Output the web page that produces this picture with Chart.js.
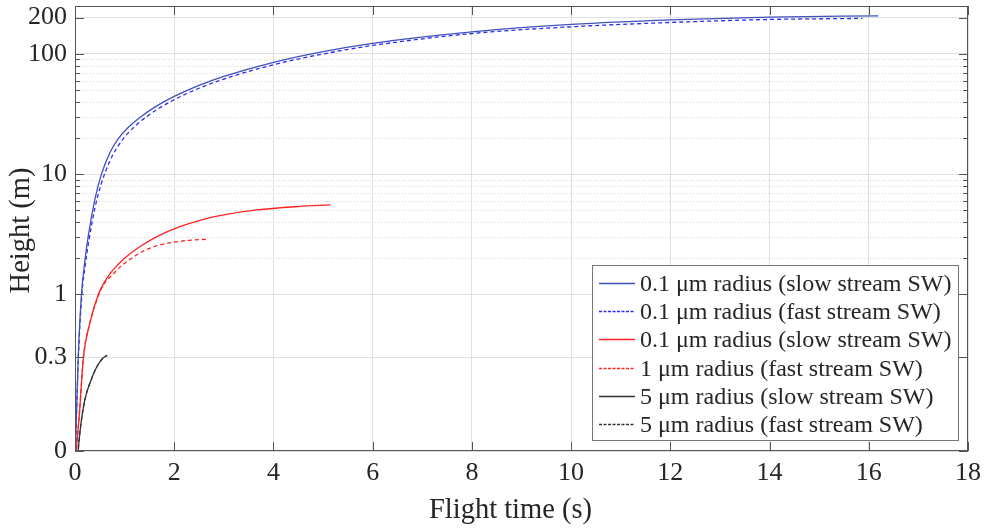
<!DOCTYPE html>
<html>
<head>
<meta charset="utf-8">
<script src="https://cdn.jsdelivr.net/npm/chart.js@4.4.1/dist/chart.umd.min.js"></script>
<style>
  html, body { margin: 0; padding: 0; background: #fff; }
  #wrap { width: 987px; height: 529px; }
</style>
</head>
<body>
<div id="wrap"><canvas id="heightChart"></canvas></div>
<script>
// flight time (s) and height (m) for each grain size / solar wind case
const blueSlowT = [0, 0.03, 0.065, 0.13, 0.2, 0.27, 0.4, 0.524, 0.7, 0.87, 1.05, 1.3, 1.65, 2, 2.5, 3, 4, 5, 6, 8, 10, 12, 14, 16.19];
const blueSlowH = [0.04, 0.1, 0.3, 1.0, 1.91, 3.11, 6.14, 9.72, 15.0, 19.7, 24.0, 29.5, 37.0, 44.3, 54.7, 64.9, 85.1, 104.5, 122.5, 152.4, 175.8, 191.9, 202.3, 207];
const blueFastT = [0, 0.03, 0.065, 0.14, 0.2, 0.27, 0.4, 0.524, 0.7, 0.87, 1.05, 1.3, 1.65, 2, 2.5, 3, 4, 5, 6, 8, 10, 12, 14, 15.87];
const blueFastH = [0.04, 0.1, 0.28, 1.02, 1.68, 2.66, 5.2, 8.18, 12.8, 17.2, 21.5, 27.0, 34.4, 41.6, 51.8, 61.8, 81.3, 99.8, 117.5, 147.6, 167.9, 182.4, 193.2, 197.2];
const redSlowT = [0, 0.04, 0.087, 0.17, 0.3, 0.47, 0.6, 0.75, 1.0, 1.3, 1.68, 2.1, 2.52, 3.0, 3.66, 4.5, 5.15];
const redSlowH = [0.04, 0.06, 0.1, 0.3, 0.58, 1, 1.28, 1.57, 2, 2.48, 3.07, 3.65, 4.14, 4.58, 5.04, 5.38, 5.55];
const redFastT = [0, 0.04, 0.087, 0.17, 0.3, 0.48, 0.6, 0.75, 0.95, 1.14, 1.4, 1.71, 2.0, 2.3, 2.67];
const redFastH = [0.04, 0.06, 0.1, 0.3, 0.58, 1, 1.25, 1.45, 1.75, 2, 2.32, 2.58, 2.72, 2.82, 2.88];
const blackSlowT = [0.05, 0.067, 0.1, 0.147, 0.19, 0.24, 0.336, 0.4, 0.47, 0.56, 0.651];
const blackSlowH = [0.04, 0.052, 0.072, 0.101, 0.128, 0.155, 0.2, 0.232, 0.263, 0.295, 0.313];
const blackFastT = [0.05, 0.067, 0.1, 0.147, 0.19, 0.24, 0.336, 0.4, 0.47, 0.56, 0.64];
const blackFastH = [0.04, 0.052, 0.072, 0.101, 0.128, 0.155, 0.2, 0.232, 0.263, 0.295, 0.31];

const seriesLabels = [
  '0.1 \u03bcm radius (slow stream SW)',
  '0.1 \u03bcm radius (fast stream SW)',
  '0.1 \u03bcm radius (slow stream SW)',
  '1 \u03bcm radius (fast stream SW)',
  '5 \u03bcm radius (slow stream SW)',
  '5 \u03bcm radius (fast stream SW)',
];

// y axis: bottom of the log axis is labelled "0"
const yTickValues = [0.05, 0.3, 1, 10, 100, 200];
const yTickLabels = ['0', '0.3', '1', '10', '100', '200'];
const yMinorValues = [2, 3, 4, 5, 6, 7, 8, 9, 20, 30, 40, 50, 60, 70, 80, 90];
const xTickValues = [0, 2, 4, 6, 8, 10, 12, 14, 16, 18];
const xTitle = 'Flight time (s)';
const yTitle = 'Height (m)';

const FONT = '"Liberation Serif", "Times New Roman", serif';
const INK = '#262626';

const pts = (t, h) => t.map((v, i) => ({ x: v, y: h[i] }));

function series(label, t, h, color, dash) {
  return {
    label,
    data: pts(t, h),
    borderColor: color,
    backgroundColor: color,
    borderWidth: 1.3,
    borderDash: dash,
    pointRadius: 0,
    cubicInterpolationMode: 'monotone',
    fill: false,
  };
}

// dotted minor grid, box outline, inward ticks, axis titles
const axesBox = {
  id: 'axesBox',
  beforeDatasetsDraw(chart) {
    const { ctx, chartArea: a, scales: { y } } = chart;
    ctx.save();
    ctx.strokeStyle = '#d2d2d2';
    ctx.lineWidth = 1;
    ctx.setLineDash([1, 2]);
    yMinorValues.forEach(v => {
      const py = Math.round(y.getPixelForValue(v)) + 0.5;
      ctx.beginPath(); ctx.moveTo(a.left, py); ctx.lineTo(a.right, py); ctx.stroke();
    });
    ctx.restore();
  },
  afterDatasetsDraw(chart) {
    const { ctx, chartArea: a, scales: { x, y } } = chart;
    ctx.save();
    ctx.strokeStyle = '#555';
    ctx.lineWidth = 1;
    ctx.strokeRect(a.left + 0.5, a.top + 0.5, a.right - a.left - 1, a.bottom - a.top - 1);
    const seg = (x1, y1, x2, y2) => { ctx.beginPath(); ctx.moveTo(x1, y1); ctx.lineTo(x2, y2); ctx.stroke(); };
    xTickValues.forEach(v => {
      const px = Math.round(x.getPixelForValue(v)) + 0.5;
      seg(px, a.bottom, px, a.bottom - 9);
      seg(px, a.top, px, a.top + 9);
    });
    yTickValues.forEach(v => {
      const py = Math.round(y.getPixelForValue(v)) + 0.5;
      seg(a.left, py, a.left + 9, py);
      seg(a.right, py, a.right - 9, py);
    });
    yMinorValues.forEach(v => {
      const py = Math.round(y.getPixelForValue(v)) + 0.5;
      seg(a.left, py, a.left + 5, py);
      seg(a.right, py, a.right - 5, py);
    });

    ctx.fillStyle = INK;
    ctx.font = '28.5px ' + FONT;
    ctx.textAlign = 'center';
    ctx.textBaseline = 'middle';
    ctx.fillText(xTitle, (a.left + a.right) / 2 - 11, a.bottom + 60);
    ctx.translate(22, (a.top + a.bottom) / 2 + 2);
    ctx.rotate(-Math.PI / 2);
    ctx.fillText(yTitle, 0, 0);
    ctx.restore();
  },
};

// boxed legend in the lower right corner of the plot
const boxLegend = {
  id: 'boxLegend',
  afterDraw(chart) {
    const { ctx, chartArea: a } = chart;
    const sets = chart.data.datasets;
    const w = 366, rowH = 28.2, h = 175;
    const x0 = a.right - 10 - w, y0 = a.bottom - 11 - h;
    ctx.save();
    ctx.fillStyle = '#fff';
    ctx.fillRect(x0, y0, w, h);
    ctx.strokeStyle = '#777';
    ctx.lineWidth = 1;
    ctx.strokeRect(x0 + 0.5, y0 + 0.5, w, h);
    ctx.font = '24px ' + FONT;
    ctx.textBaseline = 'middle';
    sets.forEach((ds, i) => {
      const cy = Math.round(y0 + 18 + i * rowH) + 0.5;
      ctx.strokeStyle = ds.borderColor;
      ctx.lineWidth = 1.3;
      ctx.setLineDash(ds.borderDash && ds.borderDash.length ? [3, 1.5] : []);
      ctx.beginPath(); ctx.moveTo(x0 + 7, cy); ctx.lineTo(x0 + 43, cy); ctx.stroke();
      ctx.fillStyle = INK;
      ctx.fillText(ds.label, x0 + 48, cy + 1);
    });
    ctx.restore();
  },
};

const chart = new Chart(document.getElementById('heightChart'), {
  type: 'line',
  data: {
    datasets: [
      series(seriesLabels[0], blueSlowT, blueSlowH, '#3e52bb', []),
      series(seriesLabels[1], blueFastT, blueFastH, '#2a2aff', [4, 3]),
      series(seriesLabels[2], redSlowT, redSlowH, '#ff2222', []),
      series(seriesLabels[3], redFastT, redFastH, '#ff2222', [4, 3]),
      series(seriesLabels[4], blackSlowT, blackSlowH, '#333333', []),
      series(seriesLabels[5], blackFastT, blackFastH, '#333333', [4, 3]),
    ],
  },
  options: {
    responsive: true,
    maintainAspectRatio: false,
    animation: false,
    parsing: false,
    layout: { padding: { top: 6, right: 19, left: 0, bottom: 0 } },
    plugins: {
      legend: { display: false },
      tooltip: { enabled: false },
    },
    scales: {
      x: {
        type: 'linear',
        min: 0,
        max: 18,
        afterBuildTicks: s => { s.ticks = xTickValues.map(v => ({ value: v })); },
        afterFit: s => { s.height = 78; s.paddingLeft = 0; s.paddingRight = 0; },
        ticks: { font: { family: FONT, size: 26 }, color: INK, padding: 7, maxRotation: 0 },
        grid: { color: '#e0e0e0', lineWidth: 1, drawTicks: false },
        border: { display: false },
      },
      y: {
        type: 'logarithmic',
        min: 0.05,
        max: 250,
        afterBuildTicks: s => { s.ticks = yTickValues.map(v => ({ value: v })); },
        afterFit: s => { s.width = 75; s.paddingTop = 0; s.paddingBottom = 0; },
        ticks: {
          font: { family: FONT, size: 26 },
          color: INK,
          padding: 8,
          callback: (v) => yTickLabels[yTickValues.indexOf(v)] ?? '',
        },
        grid: { color: '#e0e0e0', lineWidth: 1, drawTicks: false },
        border: { display: false },
      },
    },
  },
  plugins: [axesBox, boxLegend],
});
</script>
</body>
</html>
